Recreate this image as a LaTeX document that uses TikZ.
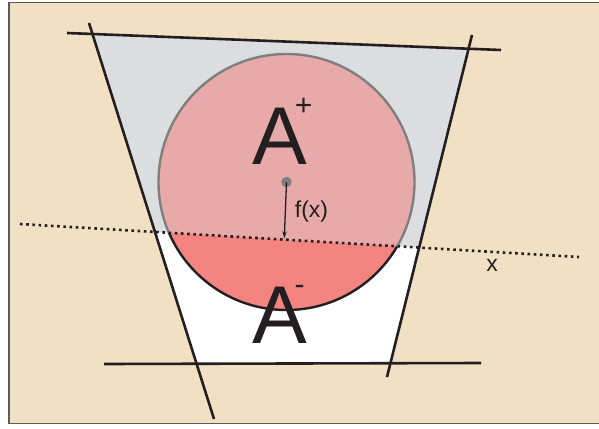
\documentclass[tikz,border=0pt]{standalone}
\usepackage{fontspec}
\setmainfont{Liberation Sans}
\usetikzlibrary{arrows.meta}
\definecolor{beige}{HTML}{F2E0C5}
\definecolor{grayfill}{HTML}{DCDDDF}
\definecolor{pinkfill}{HTML}{E8AAA9}
\definecolor{salmonfill}{HTML}{F4847F}
\definecolor{circgray}{HTML}{7F7F80}
\definecolor{linecol}{HTML}{231F20}
\definecolor{framecol}{HTML}{5E5A5A}
\newcommand{\supsgn}[3]{\hspace{#1}\raisebox{#2}{\fontsize{30}{30}\selectfont #3}}
\begin{document}
\begin{tikzpicture}[x=1pt,y=-1pt,
  edge/.style={line width=2.6pt, draw=linecol},
  dotline/.style={line width=2.6pt, draw=linecol, dash pattern=on 2.6pt off 3.6pt},
  bigA/.style={anchor=base west, inner sep=0pt, text=linecol, font=\fontsize{82}{82}\selectfont},
  lbl/.style={inner sep=0pt, text=linecol, font=\fontsize{23}{23}\selectfont}]
\useasboundingbox (0,0) rectangle (599,428);
\fill[white] (0,0) rectangle (599,428);
\fill[beige] (9,2) rectangle (599,423.5);
\draw[framecol, line width=1.5pt] (9,2.5) rectangle (603,423.5);
% key points
\coordinate (TL) at (92.5,34);
\coordinate (TR) at (468.6,48.7);
\coordinate (DL) at (155,232);
\coordinate (DR) at (419.2,247.6);
\coordinate (BL) at (196.5,363.6);
\coordinate (BR) at (390.4,363.4);
\coordinate (C) at (286.5,182);
% regions
\fill[grayfill] (TL)--(TR)--(DR)--(DL)--cycle;
\fill[white] (DL)--(DR)--(BR)--(BL)--cycle;
% circle
\fill[pinkfill] (C) circle[radius=128];
\begin{scope}
  \clip (0,222.82)--(599,258.18)--(599,428)--(0,428)--cycle;
  \fill[salmonfill] (C) circle[radius=128];
  \draw[linecol, line width=2.4pt] (C) circle[radius=128];
\end{scope}
\begin{scope}
  \clip (0,0)--(599,0)--(599,258.18)--(0,222.82)--cycle;
  \draw[circgray, line width=2.4pt] (C) circle[radius=128];
\end{scope}
% lines
\coordinate (T1) at (67,33);
\coordinate (T2) at (501,50);
\coordinate (L1) at (89,23);
\coordinate (L2) at (214,419);
\coordinate (R1) at (472,35);
\coordinate (R2) at (387,377);
\coordinate (B1) at (104,364);
\coordinate (B2) at (481,363);
\coordinate (D1) at (20,224);
\coordinate (D2) at (579,257);
\draw[edge] (T1) -- (T2);
\draw[edge] (L1) -- (L2);
\draw[edge] (R1) -- (R2);
\draw[edge] (B1) -- (B2);
\draw[dotline] (D1) -- (D2);
% centre and f(x) arrow
\fill[circgray] (C) circle[radius=5.3];
\coordinate (F) at (284.3,238.3);
\draw[linecol, line width=1.3pt, -{Stealth[length=7pt,width=4.5pt]}] (C) -- (F);
% texts
\node[bigA] (Aplus) at (252,164) {A\supsgn{-12pt}{49pt}{+}};
\node[bigA] (Aminus) at (252,343) {A\supsgn{-12.2pt}{48.8pt}{-}};
\node[lbl] (fx) at (311.5,211.5) {f(x)};
\node[lbl, anchor=base] (xl) at (492,271) {x};
\end{tikzpicture}
\end{document}
